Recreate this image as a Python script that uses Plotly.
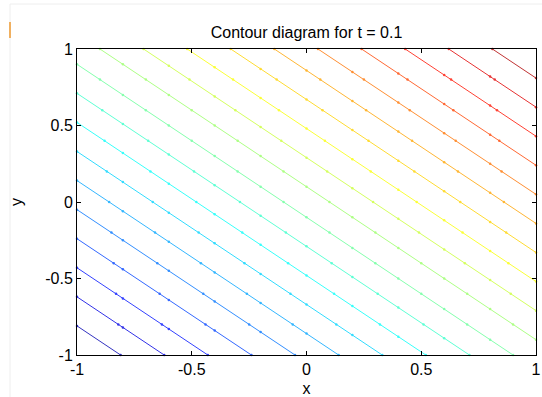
import numpy as np
import plotly.graph_objects as go

# Contour levels (value of x + y along each line)
levels = [-1.81, -1.62, -1.43, -1.24, -1.05, -0.86, -0.67, -0.48, -0.29, -0.10,
          0.10, 0.29, 0.48, 0.67, 0.86, 1.05, 1.24, 1.43, 1.62, 1.81]
# computational grid of the contour (x and y nodes)
grid_x = [-1.0, -0.8, -0.6, -0.4, -0.2, 0.0, 0.2, 0.4, 0.6, 0.8, 1.0]
grid_y = [-1.0, -0.8, -0.6, -0.4, -0.2, 0.0, 0.2, 0.4, 0.6, 0.8, 1.0]
x_ticks = [-1, -0.5, 0, 0.5, 1]
x_tick_text = ["-1", "-0.5", "0", "0.5", "1"]
y_ticks = [-1, -0.5, 0, 0.5, 1]
y_tick_text = ["-1", "-0.5", "0", "0.5", "1"]
zmin, zmax = -2.0, 2.0

W, H = 542, 397
L, R, T, B = 77, 6, 49, 42
FONT = "Liberation Sans, Arial"


def jet(f, fade=0.2):
    r = min(max(1.5 - abs(4 * f - 3), 0), 1)
    g = min(max(1.5 - abs(4 * f - 2), 0), 1)
    b = min(max(1.5 - abs(4 * f - 1), 0), 1)
    r, g, b = [v + (1 - v) * fade for v in (r, g, b)]
    return "rgb(%d,%d,%d)" % (round(r * 255), round(g * 255), round(b * 255))


fig = go.Figure()
for c in levels:
    pts = set()
    for xi in grid_x:
        yv = c - xi
        if -1 - 1e-9 <= yv <= 1 + 1e-9:
            pts.add(round(xi, 6))
    for yj in grid_y:
        xv = c - yj
        if -1 - 1e-9 <= xv <= 1 + 1e-9:
            pts.add(round(xv, 6))
    xs = sorted(pts)
    ys = [c - v for v in xs]
    col = jet((c - zmin) / (zmax - zmin))
    fig.add_trace(go.Scatter(
        x=xs, y=ys, mode="lines+markers",
        line=dict(color=col, width=1),
        marker=dict(color=col, size=2.5),
        showlegend=False, hoverinfo="skip", cliponaxis=False))

axis_common = dict(
    range=[-1, 1], showline=True, linecolor="black", linewidth=1, mirror="ticks",
    ticks="inside", ticklen=4, tickcolor="black", showgrid=False, zeroline=False,
    automargin=False,
    tickfont=dict(family=FONT, size=16, color="black"),
)
fig.update_xaxes(**axis_common, tickvals=x_ticks, ticktext=x_tick_text,
                 title=dict(text="x", font=dict(family=FONT, size=16, color="black"), standoff=8))
fig.update_yaxes(**axis_common, tickvals=y_ticks, ticktext=y_tick_text,
                 title=dict(text="y", font=dict(family=FONT, size=16, color="black"), standoff=18))

PW, PH = W - L - R, H - T - B


def px(xp):
    return (xp - L) / PW


def py(yp):
    return 1 - (yp - T) / PH


# faint page frame and small orange mark at the top-left (as in the reference)
fig.add_shape(type="line", xref="paper", yref="paper",
              x0=px(10), x1=px(W), y0=py(4), y1=py(4),
              line=dict(color="#eeeeee", width=1))
fig.add_shape(type="line", xref="paper", yref="paper",
              x0=px(10), x1=px(10), y0=py(4), y1=py(H),
              line=dict(color="#eeeeee", width=1))
fig.add_shape(type="line", xref="paper", yref="paper",
              x0=px(10), x1=px(10), y0=py(22), y1=py(38),
              line=dict(color="#f0b060", width=2))

fig.update_layout(
    width=W, height=H,
    margin=dict(l=L, r=R, t=T, b=B),
    paper_bgcolor="white", plot_bgcolor="white",
    title=dict(text="Contour diagram for t = 0.1", x=(L + PW / 2) / W, xanchor="center",
               y=1 - 32 / H, yanchor="middle",
               font=dict(family=FONT, size=16, color="black")),
)

fig.write_html("out.html", config={"displayModeBar": False, "staticPlot": True},
               post_script="document.body.style.margin='0';document.body.style.overflow='hidden';")
